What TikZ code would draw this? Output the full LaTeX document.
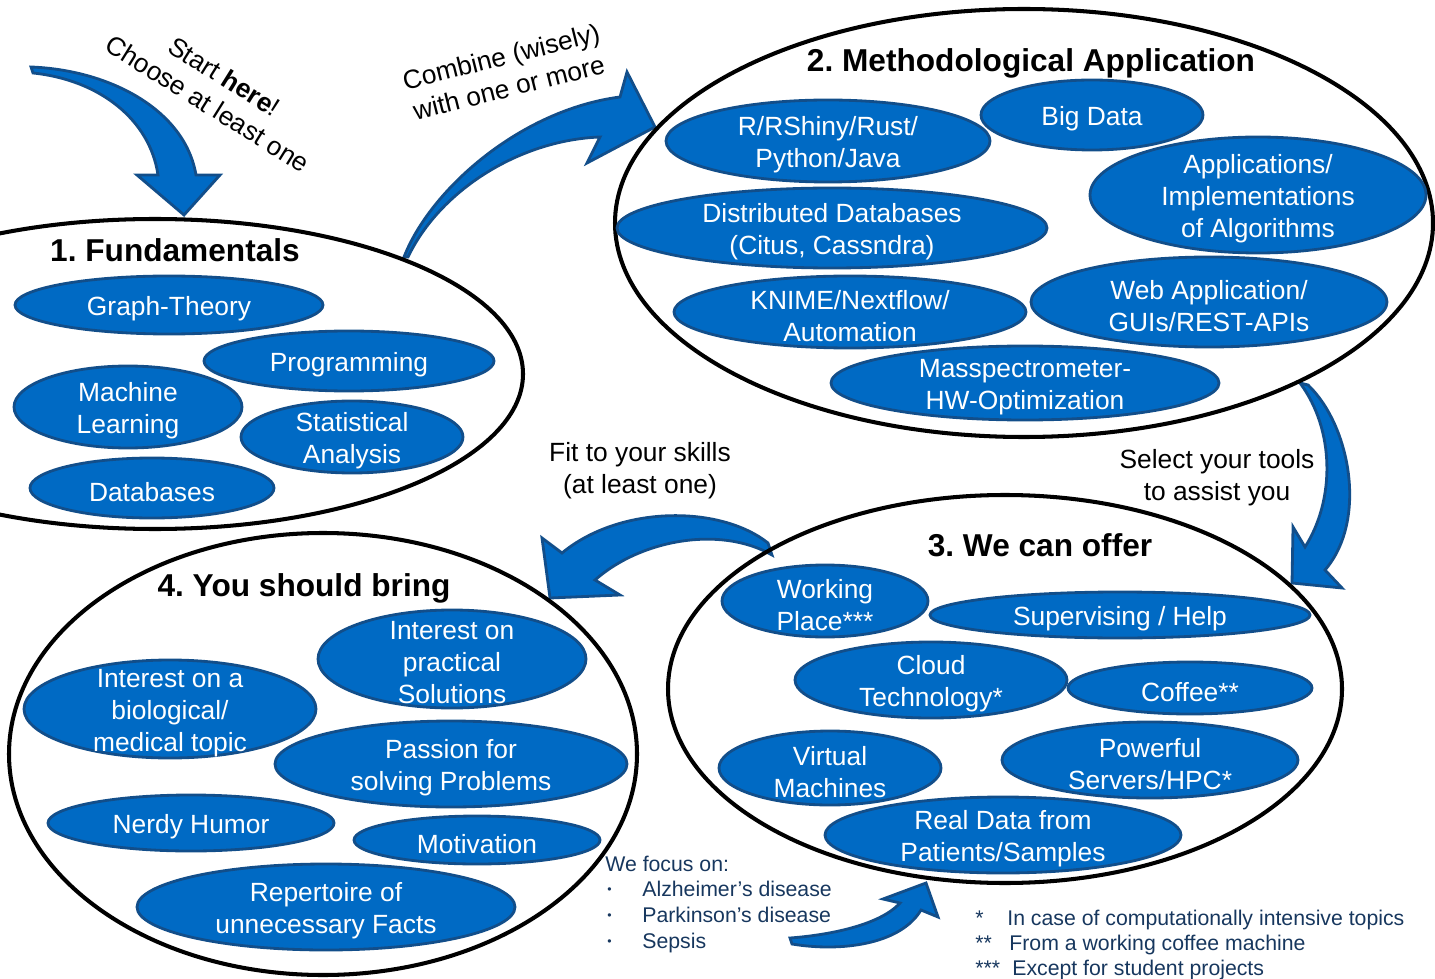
\documentclass[tikz,border=0pt]{standalone}
\usepackage{fontspec}
\setmainfont{Liberation Sans}
\usepackage{tikz}
\definecolor{ovalblue}{RGB}{0,106,196}
\definecolor{ovalrim}{RGB}{18,78,138}
\definecolor{navytext}{RGB}{23,55,94}
\frenchspacing
\begin{document}
\begin{tikzpicture}[x=0.02cm,y=-0.02cm]
\tikzset{ovalbox/.style = {fill=ovalblue,draw=ovalrim,line width=1.6pt},
 ovaltext/.style = {text=white,align=center,inner sep=0pt,yshift=-0.08cm,font=\fontsize{15}{18.2}\selectfont},
 groupline/.style = {draw=black,line width=2.3pt},
 grouptitle/.style = {inner sep=0pt,font=\fontsize{18}{21}\selectfont\bfseries},
 sidetext/.style = {align=center,inner sep=0pt,font=\fontsize{15}{18.2}\selectfont},
 footnotetext/.style = {text=navytext,inner sep=0pt,anchor=base west,font=\fontsize{12.1}{14.5}\selectfont},
 blockarrow/.style = {fill=ovalblue,draw=ovalrim,line width=1.6pt,line join=miter}}
\useasboundingbox (0,0) rectangle (1435,979);
\clip (0,0) rectangle (1435,979);
%block arrows between the groups
\draw[blockarrow] (31,67) .. controls (110,70) and (185,110) .. (196,175) -- (220,175) -- (184,215) -- (137,175) -- (158,175) .. controls (150,120) and (100,80) .. (33,73) -- cycle;
\draw[blockarrow] (404,257) .. controls (430,190) and (520,110) .. (620,97) -- (627,72) -- (655,127) -- (587,163) -- (600,137) .. controls (520,140) and (440,190) .. (408,257) -- cycle;
\draw[blockarrow] (1300,383) -- (1308,385) .. controls (1350,425) and (1368,520) .. (1325,570) -- (1342,588) -- (1292,583) -- (1293,527) -- (1305,547) .. controls (1335,500) and (1335,430) .. (1300,383) -- cycle;
\draw[blockarrow] (768,543) .. controls (720,505) and (620,505) .. (562,553) -- (542,538) -- (550,598) -- (620,595) -- (595,580) .. controls (640,540) and (720,525) .. (772,555) -- cycle;
\draw[blockarrow] (790,938) .. controls (830,935) and (880,925) .. (900,903) -- (883,899) -- (926,883) -- (938,917) -- (921,910) .. controls (900,945) and (840,952) .. (792,944) -- cycle;
%the four big groups
\draw[groupline] (155,374) ellipse [x radius=368, y radius=155];
\draw[groupline] (1024,223) ellipse [x radius=409, y radius=214];
\draw[groupline] (1005,689) ellipse [x radius=337, y radius=194];
\draw[groupline] (323,754) ellipse [x radius=314, y radius=221];
\node[grouptitle] (Fundamentals) at (175,250) {1. Fundamentals};
\node[grouptitle] (Methods) at (1031,63) {2. Methodological Application};
\node[grouptitle] (Offer) at (1040,545) {3. We can offer};
\node[grouptitle] (Bring) at (304,588) {4. You should bring};
%1. fundamentals
\draw[ovalbox] (169,305) ellipse [x radius=154, y radius=29] node[ovaltext] (GraphTheory) {Graph-Theory};
\draw[ovalbox] (349,361) ellipse [x radius=145, y radius=30] node[ovaltext] (Programming) {Programming};
\draw[ovalbox] (128,407) ellipse [x radius=114, y radius=41] node[ovaltext] (MachineLearning) {Machine\\Learning};
\draw[ovalbox] (352,437) ellipse [x radius=111, y radius=36] node[ovaltext] (Statistics) {Statistical\\Analysis};
\draw[ovalbox] (152,488) ellipse [x radius=122, y radius=30] node[ovaltext] (Databases) {Databases};
%2. methodological application
\draw[ovalbox] (828,141) ellipse [x radius=162, y radius=41] node[ovaltext] (Languages) {R/RShiny/Rust/\\Python/Java};
\draw[ovalbox] (1092,115) ellipse [x radius=111, y radius=35] node[ovaltext] (BigData) {Big Data};
\draw[ovalbox] (1258,195) ellipse [x radius=168, y radius=58] node[ovaltext] (Algorithms) {Applications/\\Implementations\\of Algorithms};
\draw[ovalbox] (832,228) ellipse [x radius=215, y radius=40] node[ovaltext] (DistDB) {Distributed Databases\\(Citus, Cassndra)};
\draw[ovalbox] (850,312) ellipse [x radius=176, y radius=36] node[ovaltext] (Workflow) {KNIME/Nextflow/\\Automation};
\draw[ovalbox] (1209,302) ellipse [x radius=178, y radius=45] node[ovaltext] (WebApp) {Web Application/\\GUIs/REST-APIs};
\draw[ovalbox] (1025,383) ellipse [x radius=194, y radius=37] node[ovaltext] (MassSpec) {Masspectrometer-\\HW-Optimization};
%3. we can offer
\draw[ovalbox] (825,601) ellipse [x radius=103, y radius=36] node[ovaltext] (Workplace) {Working\\Place***};
\draw[ovalbox] (1120,615) ellipse [x radius=190, y radius=23] node[ovaltext] (Supervision) {Supervising / Help};
\draw[ovalbox] (931,680) ellipse [x radius=136, y radius=38] node[ovaltext] (Cloud) {Cloud\\Technology*};
\draw[ovalbox] (1190,688) ellipse [x radius=122, y radius=26] node[ovaltext] (Coffee) {Coffee**};
\draw[ovalbox] (830,768) ellipse [x radius=111, y radius=37] node[ovaltext] (VMs) {Virtual\\Machines};
\draw[ovalbox] (1150,760) ellipse [x radius=148, y radius=38] node[ovaltext] (Servers) {Powerful\\Servers/HPC*};
\draw[ovalbox] (1003,835) ellipse [x radius=178, y radius=38] node[ovaltext] (RealData) {Real Data from\\Patients/Samples};
%4. you should bring
\draw[ovalbox] (452,659) ellipse [x radius=134, y radius=49] node[ovaltext] (Practical) {Interest on\\practical\\Solutions};
\draw[ovalbox] (170,709) ellipse [x radius=146, y radius=49] node[ovaltext] (Biomed) {Interest on a\\biological/\\medical topic};
\draw[ovalbox] (451,764) ellipse [x radius=176, y radius=43] node[ovaltext] (Passion) {Passion for\\solving Problems};
\draw[ovalbox] (191,823) ellipse [x radius=143, y radius=28] node[ovaltext] (Humor) {Nerdy Humor};
\draw[ovalbox] (477,840) ellipse [x radius=123, y radius=24] node[ovaltext] (Motivation) {Motivation};
\draw[ovalbox] (326,907) ellipse [x radius=189, y radius=43] node[ovaltext] (Facts) {Repertoire of\\unnecessary Facts};
%texts along the arrows
\node[sidetext,rotate=-32] (StartHere) at (216,90) {Start \textbf{here}!\\Choose at least one};
\node[sidetext,rotate=14] (Combine) at (505,72) {Combine (wisely)\\with one or more};
\node[sidetext] (FitSkills) at (640,471) {Fit to your skills\\(at least one)};
\node[sidetext] (SelectTools) at (1217,478) {Select your tools\\to assist you};
%focus list and footnotes
\node[footnotetext] (Focus) at (605,871) {We focus on:};
\node[footnotetext,font=\fontsize{7}{8}\selectfont] (dot1) at (607,893) {\textbullet};
\node[footnotetext] (Alzheimer) at (642,896) {Alzheimer’s disease};
\node[footnotetext,font=\fontsize{7}{8}\selectfont] (dot2) at (607,919) {\textbullet};
\node[footnotetext] (Parkinson) at (642,922) {Parkinson’s disease};
\node[footnotetext,font=\fontsize{7}{8}\selectfont] (dot3) at (607,945) {\textbullet};
\node[footnotetext] (Sepsis) at (642,948) {Sepsis};
\node[footnotetext] (star1) at (975,925) {*};
\node[footnotetext] (note1) at (1007,925) {In case of computationally intensive topics};
\node[footnotetext] (star2) at (975,950) {**};
\node[footnotetext] (note2) at (1009,950) {From a working coffee machine};
\node[footnotetext] (star3) at (975,975) {***};
\node[footnotetext] (note3) at (1012,975) {Except for student projects};
\end{tikzpicture}
\end{document}
